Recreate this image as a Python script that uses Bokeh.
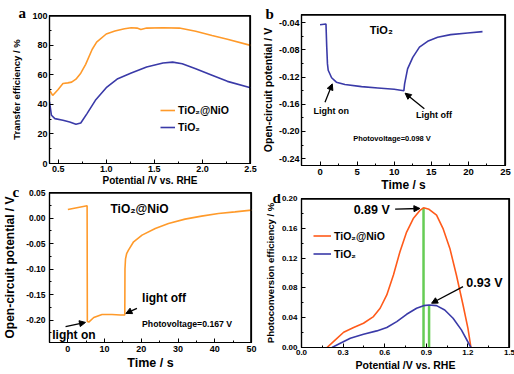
from bokeh.plotting import figure
from bokeh.layouts import row, column
from bokeh.models import (Label, Arrow, NormalHead, Legend, LegendItem, Span,
                          SingleIntervalTicker, PrintfTickFormatter)
from bokeh.embed import file_html
from bokeh.resources import INLINE

# ---------------- data ----------------
# (a) transfer efficiency
a_x_nio = [0.41, 0.443, 0.5, 0.55, 0.6, 0.64, 0.685, 0.735, 0.786, 0.853, 0.9, 1.0,
           1.09, 1.19, 1.26, 1.32, 1.36, 1.42, 1.59, 1.76, 1.93, 2.1, 2.26, 2.5]
a_y_nio = [49.5, 46, 50, 54, 54.5, 55, 57, 61, 67, 77, 82, 87.5,
           89.5, 91, 91.7, 91.5, 90.5, 91.5, 91.7, 91.5, 89.4, 86.5, 84, 79.8]
a_x_tio = [0.41, 0.43, 0.466, 0.55, 0.62, 0.685, 0.735, 0.80, 0.887, 1.0, 1.12,
           1.26, 1.42, 1.59, 1.69, 1.79, 1.93, 2.1, 2.26, 2.5]
a_y_tio = [41.6, 32.6, 30.3, 29.2, 28, 26.5, 27.4, 33.7, 42.7, 51.2, 57.3,
           61.1, 65.2, 67.9, 68.5, 67.4, 64, 59.6, 55.5, 51.2]

# (b) OCP of TiO2
b_t = [0, 0.8, 0.9, 1.0, 1.1, 1.56, 2.2, 3.35, 5.6, 7.8, 10.0, 11.3, 11.4, 11.8,
       12.5, 13.4, 14.5, 15.85, 17.6, 19.9, 21.9]
b_v = [-0.043, -0.042, -0.075, -0.1006, -0.110, -0.121, -0.1275, -0.131, -0.134,
       -0.136, -0.138, -0.140, -0.130, -0.108, -0.091, -0.076, -0.0674, -0.0615,
       -0.0576, -0.0552, -0.0532]

# (c) OCP of TiO2@NiO
c_t = [0, 5.24, 5.3, 5.7, 7.05, 9.3, 12, 14.3, 15.5, 15.55, 15.7, 16.0, 16.5, 17.9,
       20.2, 23.8, 27.4, 31.9, 36.4, 41, 45.5, 50]
c_v = [0.0167, 0.024, -0.203, -0.204, -0.195, -0.189, -0.189, -0.190, -0.190, -0.10,
       -0.08, -0.07, -0.063, -0.0466, -0.0335, -0.0205, -0.0107, -0.0022, 0.0037,
       0.0089, 0.012, 0.0154]

# (d) photoconversion efficiency
d_x_nio = [0.184, 0.244, 0.304, 0.376, 0.447, 0.519, 0.567, 0.615, 0.663, 0.71, 0.758,
           0.806, 0.854, 0.88, 0.92, 0.974, 1.02, 1.07, 1.117, 1.165, 1.2, 1.222]
d_y_nio = [0, 0.0103, 0.0205, 0.0268, 0.0326, 0.0415, 0.0527, 0.0705, 0.0973, 0.1286,
           0.155, 0.173, 0.184, 0.1875, 0.1855, 0.1777, 0.16, 0.133, 0.0973, 0.057,
           0.026, 0]
d_x_tio = [0.22, 0.28, 0.352, 0.447, 0.543, 0.615, 0.687, 0.758, 0.83, 0.88, 0.92,
           0.974, 1.033, 1.093, 1.153, 1.222]
d_y_tio = [0, 0.0058, 0.0125, 0.0179, 0.0223, 0.0268, 0.0348, 0.0446, 0.0527, 0.0562,
           0.0571, 0.0562, 0.0504, 0.0393, 0.0237, 0]
d_peak_x = [0.88, 0.92]
d_peak_y = [0.1875, 0.0571]

ORANGE = "#FF9A2A"
ORANGE_D = "#FF5A1A"
BLUE = "#3A3AA8"
GREEN = "#66CC55"
FONT = "Liberation Sans"


def make_fig(g, xlab, ylab, xint, yint, xfmt, yfmt, xtick_fs, ytick_fs, xl_fs, yl_fs,
             letter, letter_offset, letter_standoff):
    p = figure(frame_width=g["fw"], frame_height=g["fh"], x_range=g["xr"], y_range=g["yr"],
               min_border_left=g["bl"], min_border_right=g["br"],
               min_border_top=g["bt"], min_border_bottom=g["bb"],
               output_backend="svg", toolbar_location=None)
    p.xgrid.visible = False
    p.ygrid.visible = False
    p.outline_line_color = "black"
    p.outline_line_width = 1.2
    # panel letter as the figure title, pulled to the left of the frame
    p.title.text = letter
    p.title.align = "left"
    p.title.offset = letter_offset
    p.title.standoff = letter_standoff
    p.title.text_font = "Liberation Serif"
    p.title.text_font_style = "bold"
    p.title.text_font_size = "15px"
    p.title.text_color = "black"
    # top and right edges of the box, drawn just inside the frame
    (x0, x1), (y0, y1) = g["xr"], g["yr"]
    p.add_layout(Span(location=y1 - 0.6 * (y1 - y0) / g["fh"], dimension="width",
                      line_color="black", line_width=1.4))
    p.add_layout(Span(location=x1 - 0.6 * (x1 - x0) / g["fw"], dimension="height",
                      line_color="black", line_width=1.4))
    p.xaxis.ticker = SingleIntervalTicker(interval=xint, num_minor_ticks=2)
    p.yaxis.ticker = SingleIntervalTicker(interval=yint, num_minor_ticks=2)
    p.xaxis.formatter = PrintfTickFormatter(format=xfmt)
    p.yaxis.formatter = PrintfTickFormatter(format=yfmt)
    p.xaxis.axis_label = xlab
    p.yaxis.axis_label = ylab
    for ax in (p.xaxis, p.yaxis):
        ax.major_tick_in = 4
        ax.major_tick_out = 0
        ax.minor_tick_in = 2
        ax.minor_tick_out = 0
        ax.axis_line_color = "black"
        ax.axis_line_width = 1.2
        ax.major_tick_line_color = "black"
        ax.minor_tick_line_color = "black"
        ax.major_label_text_font = FONT
        ax.major_label_text_font_style = "bold"
        ax.major_label_text_color = "black"
        ax.axis_label_text_font = FONT
        ax.axis_label_text_font_style = "bold"
        ax.axis_label_text_color = "black"
    p.xaxis.major_label_text_font_size = xtick_fs
    p.yaxis.major_label_text_font_size = ytick_fs
    p.xaxis.axis_label_text_font_size = xl_fs
    p.yaxis.axis_label_text_font_size = yl_fs
    p.xaxis.major_label_standoff = 2
    p.yaxis.major_label_standoff = g["ys"]
    p.xaxis.axis_label_standoff = 1
    p.yaxis.axis_label_standoff = g["yls"]
    return p


def note(p, x, y, text, size):
    p.add_layout(Label(x=x, y=y, text=text, text_font=FONT, text_font_style="bold",
                       text_font_size=size, text_align="left", text_baseline="middle",
                       text_color="black"))


def arrow(p, x0, y0, x1, y1):
    p.add_layout(Arrow(end=NormalHead(size=6, fill_color="black", line_color="black"),
                       x_start=x0, y_start=y0, x_end=x1, y_end=y1,
                       line_color="black", line_width=1.3))


def legend(p, items, loc, gw, gh):
    lg = Legend(items=items, location=loc, padding=0, margin=0, spacing=3,
                glyph_width=gw, glyph_height=gh, label_height=gh, label_standoff=3,
                border_line_alpha=0, background_fill_alpha=0,
                label_text_font=FONT, label_text_font_style="bold",
                label_text_font_size="10.5px", label_text_color="black")
    p.add_layout(lg)


# ---------------- panel a ----------------
ga = dict(fw=201, fh=148, bl=49, br=7, bt=15, bb=24, ys=2, yls=7,
          xr=(0.41, 2.5), yr=(0, 100))
pa = make_fig(ga, "Potential /V vs. RHE", "Transfer efficiency / %", 0.5, 20,
              "%.1f", "%d", "9px", "9px", "10px", "9.5px", "a", -31, -10)
pa.xaxis.axis_label_standoff = 0
ra1 = pa.line(a_x_nio, a_y_nio, line_color=ORANGE, line_width=1.6)
ra2 = pa.line(a_x_tio, a_y_tio, line_color=BLUE, line_width=1.6)
legend(pa, [LegendItem(label="TiO₂@NiO", renderers=[ra1]),
            LegendItem(label="TiO₂", renderers=[ra2])], (111, 29), 15, 14)

# ---------------- panel c ----------------
gc = dict(fw=202, fh=150, bl=47, br=7, bt=4, bb=33, ys=4, yls=6,
          xr=(-5, 50), yr=(-0.244, 0.05))
pc = make_fig(gc, "Time / s", "Open-circuit potential / V", 10, 0.05,
              "%d", "%.2f", "9px", "8.5px", "12.5px", "12px", "c", -37, -15)
pc.xaxis.major_label_standoff = 3
pc.line(c_t, c_v, line_color=ORANGE, line_width=1.6)
note(pc, 11.6, 0.0174, "TiO₂@NiO", "12px")
note(pc, 20.2, -0.1576, "light off", "12px")
note(pc, -4.25, -0.2294, "light on", "12px")
note(pc, 20.2, -0.2085, "Photovoltage=0.167 V", "8.7px")
arrow(pc, 18.8, -0.177, 15.8, -0.187)
arrow(pc, -0.63, -0.213, 4.8, -0.2046)

# ---------------- panel b ----------------
gb = dict(fw=204, fh=151, bl=37, br=12, bt=14, bb=28, ys=2, yls=2,
          xr=(-2.5, 25), yr=(-0.25, -0.028))
pb = make_fig(gb, "Time / s", "Open-circuit potential / V", 5, 0.04,
              "%d", "%.2f", "9.5px", "9px", "12px", "10.5px", "b", -36, -14)
pb.xaxis.major_label_standoff = 3
pb.xaxis.axis_label_standoff = 0
pb.line(b_t, b_v, line_color=BLUE, line_width=1.6)
note(pb, 6.7, -0.051, "TiO₂", "11px")
note(pb, -0.89, -0.1706, "Light on", "9px")
note(pb, 12.95, -0.1764, "Light off", "9px")
note(pb, 4.46, -0.2097, "Photovoltage=0.098 V", "7.5px")
arrow(pb, 0.67, -0.157, 1.65, -0.130)
arrow(pb, 14.06, -0.1666, 11.47, -0.1437)

# ---------------- panel d ----------------
gd = dict(fw=208, fh=149, bl=35, br=10, bt=4, bb=28, ys=4, yls=3,
          xr=(0, 1.5), yr=(0, 0.2))
pd_ = make_fig(gd, "Potential /V vs. RHE", "Photoconversion efficiency / %", 0.3, 0.04,
               "%.1f", "%.2f", "8px", "8px", "10.5px", "9.5px", "d", -29, -15)
pd_.segment(x0=d_peak_x, y0=[0, 0], x1=d_peak_x, y1=d_peak_y,
            line_color=GREEN, line_width=2.5)
rd1 = pd_.line(d_x_nio, d_y_nio, line_color=ORANGE_D, line_width=1.6)
rd2 = pd_.line(d_x_tio, d_y_tio, line_color=BLUE, line_width=1.6)
legend(pd_, [LegendItem(label="TiO₂@NiO", renderers=[rd1]),
             LegendItem(label="TiO₂", renderers=[rd2])], (12, 86), 18, 15)
note(pd_, 0.376, 0.1844, "0.89 V", "12.5px")
note(pd_, 1.189, 0.0862, "0.93 V", "12.5px")
arrow(pd_, 0.675, 0.1857, 0.854, 0.1866)
arrow(pd_, 1.165, 0.0817, 0.938, 0.0594)

layout = row(column(pa, pc), column(pb, pd_))
open("out.html", "w").write(file_html(layout, INLINE))
